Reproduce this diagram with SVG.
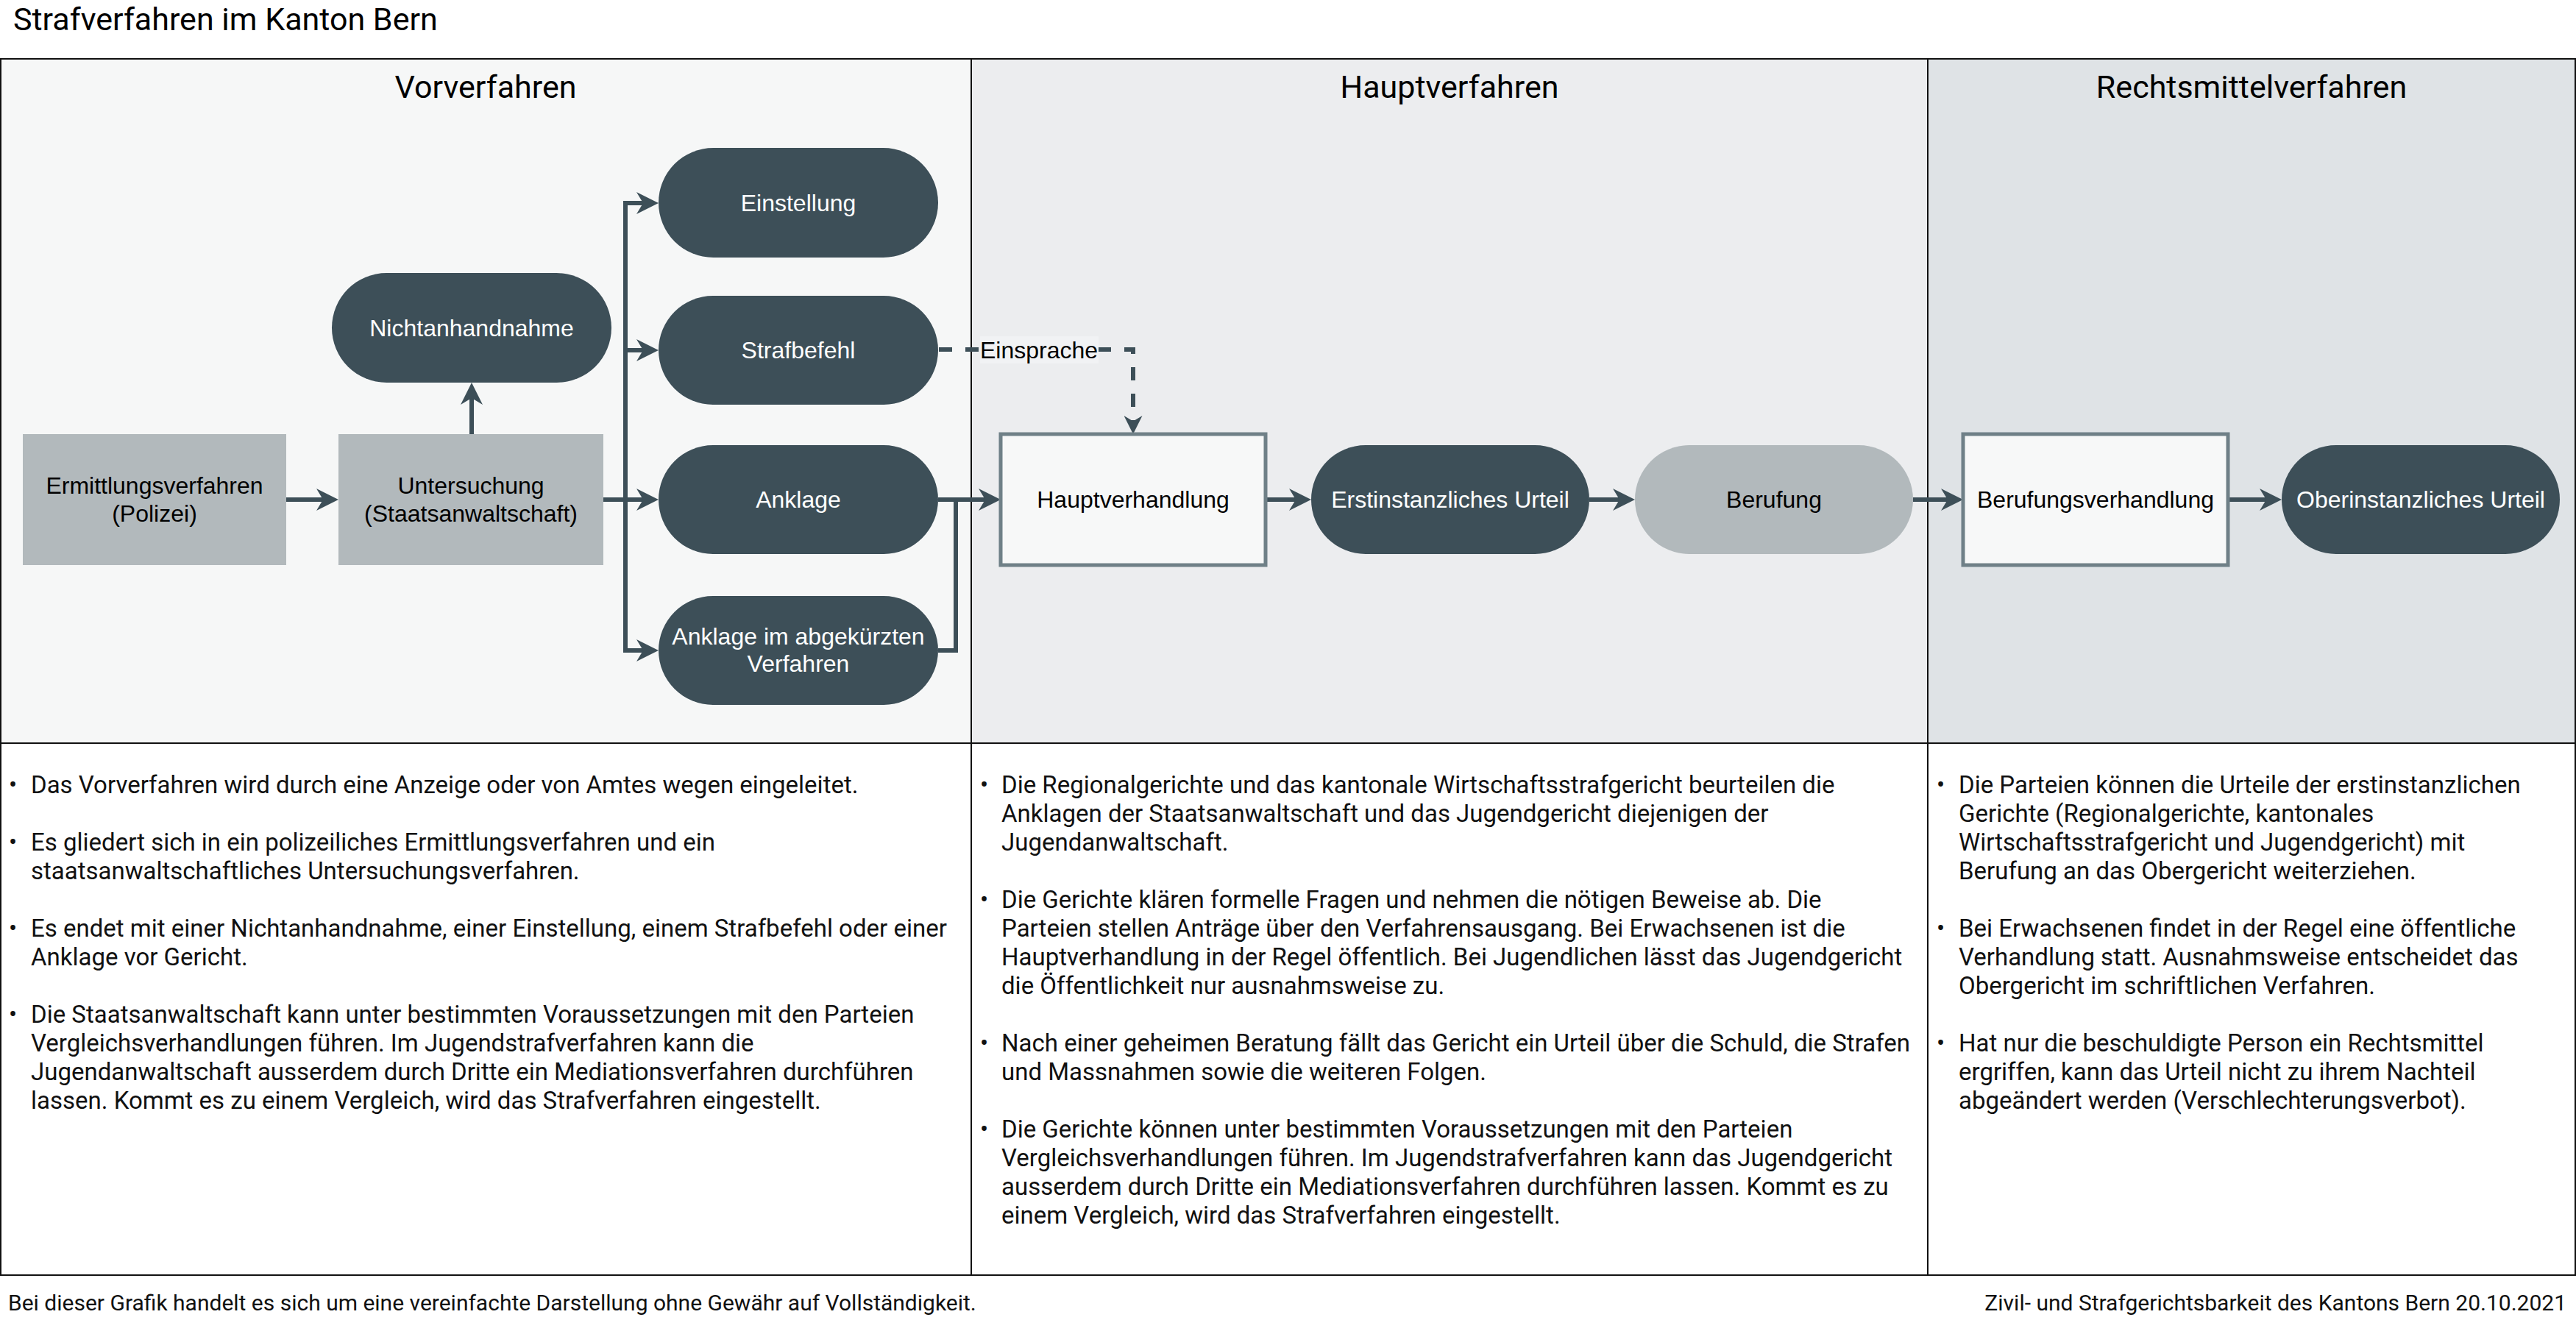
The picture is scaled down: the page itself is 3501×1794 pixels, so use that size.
<svg xmlns="http://www.w3.org/2000/svg" width="3501" height="1794" viewBox="0 0 3501 1794">
<style>
.ttl{font-family:Roboto,"Liberation Sans",sans-serif;font-size:43px;fill:#000}
.hdr{font-family:Roboto,"Liberation Sans",sans-serif;font-size:43px;fill:#000;text-anchor:middle}
.body{font-family:Roboto,"Liberation Sans",sans-serif;font-size:33px;fill:#111}
.foot{font-family:Roboto,"Liberation Sans",sans-serif;font-size:30px;fill:#111}
.lbl{font-family:"Liberation Sans",Arial,sans-serif;font-size:32px;text-anchor:middle}
.w{fill:#fff}
.k{fill:#000}
.dark{fill:#3d4f58}
.grey{fill:#b2b9bc}
.box{fill:#f7f8f8;stroke:#6f8087;stroke-width:5}
.frame{fill:none;stroke:#111;stroke-width:2}
.conn{fill:none;stroke:#3d4f58;stroke-width:6}
.arr{marker-end:url(#ah)}
.dash{stroke-dasharray:18 18;marker-end:url(#ahs)}
</style>
<defs>
<marker id="ah" markerUnits="userSpaceOnUse" viewBox="0 0 30 30" markerWidth="30" markerHeight="30" refX="12" refY="15" orient="auto">
<path d="M0,0 L30,15 L0,30 L9,15 Z" fill="#3d4f58"/>
</marker>
<marker id="ahs" markerUnits="userSpaceOnUse" viewBox="0 0 30 30" markerWidth="25" markerHeight="25" refX="12" refY="15" orient="auto">
<path d="M0,0 L30,15 L0,30 L9,15 Z" fill="#3d4f58"/>
</marker>
</defs>
<rect x="0" y="0" width="3501" height="1794" fill="#fff"/>
<text class="ttl" x="18" y="41">Strafverfahren im Kanton Bern</text>
<g id="panels">
<rect x="1" y="80" width="1319" height="930" fill="#f6f7f7"/>
<rect x="1320" y="80" width="1300" height="930" fill="#ecedef"/>
<rect x="2620" y="80" width="880" height="930" fill="#dfe3e6"/>
<text class="hdr" x="660" y="133">Vorverfahren</text>
<text class="hdr" x="1970" y="133">Hauptverfahren</text>
<text class="hdr" x="3060" y="133">Rechtsmittelverfahren</text>
<rect class="frame" x="1" y="80" width="3499" height="1653"/>
<line class="frame" x1="1" y1="1010" x2="3500" y2="1010"/>
<line class="frame" x1="1320" y1="80" x2="1320" y2="1733"/>
<line class="frame" x1="2620" y1="80" x2="2620" y2="1733"/>
</g>
<g id="connectors">
<path class="conn arr" d="M389,679 H442"/>
<path class="conn arr" d="M641,590 V538"/>
<path class="conn arr" d="M820,679 H877"/>
<path class="conn arr" d="M850,679 V276 H877"/>
<path class="conn arr" d="M850,679 V476 H877"/>
<path class="conn arr" d="M850,679 V884 H877"/>
<path class="conn arr" d="M1275,679 H1342"/>
<path class="conn" d="M1275,884 H1299 V679"/>
<path class="conn arr" d="M1722,679 H1764"/>
<path class="conn arr" d="M2160,679 H2204"/>
<path class="conn arr" d="M2600,679 H2650"/>
<path class="conn arr" d="M3030,679 H3083"/>
<path class="conn dash" d="M1276,475 H1540 V575"/>
<rect x="1332" y="457" width="161" height="37" fill="#f1f2f4"/>
<text class="lbl k" x="1412" y="487">Einsprache</text>
</g>
<g id="n-ermittlung">
<rect class="grey" x="31" y="590" width="358" height="178"/>
<text class="lbl k" x="210"><tspan x="210" y="671">Ermittlungsverfahren</tspan><tspan x="210" y="709">(Polizei)</tspan></text>
</g>
<g id="n-untersuchung">
<rect class="grey" x="460" y="590" width="360" height="178"/>
<text class="lbl k" x="640"><tspan x="640" y="671">Untersuchung</tspan><tspan x="640" y="709">(Staatsanwaltschaft)</tspan></text>
</g>
<g id="n-nichtanhandnahme">
<rect class="dark" x="451" y="371" width="380" height="149" rx="74.5"/>
<text class="lbl w" x="641" y="457">Nichtanhandnahme</text>
</g>
<g id="n-einstellung">
<rect class="dark" x="895" y="201" width="380" height="149" rx="74.5"/>
<text class="lbl w" x="1085" y="287">Einstellung</text>
</g>
<g id="n-strafbefehl">
<rect class="dark" x="895" y="402" width="380" height="148" rx="74"/>
<text class="lbl w" x="1085" y="487">Strafbefehl</text>
</g>
<g id="n-anklage">
<rect class="dark" x="895" y="605" width="380" height="148" rx="74"/>
<text class="lbl w" x="1085" y="690">Anklage</text>
</g>
<g id="n-anklage-abgekuerzt">
<rect class="dark" x="895" y="810" width="380" height="148" rx="74"/>
<text class="lbl w" x="1085"><tspan x="1085" y="876">Anklage im abgekürzten</tspan><tspan x="1085" y="913">Verfahren</tspan></text>
</g>
<g id="n-hauptverhandlung">
<rect class="box" x="1360" y="590" width="360" height="178"/>
<text class="lbl k" x="1540" y="690">Hauptverhandlung</text>
</g>
<g id="n-erstinstanzlich">
<rect class="dark" x="1782" y="605" width="378" height="148" rx="74"/>
<text class="lbl w" x="1971" y="690">Erstinstanzliches Urteil</text>
</g>
<g id="n-berufung">
<rect class="grey" x="2222" y="605" width="378" height="148" rx="74"/>
<text class="lbl k" x="2411" y="690">Berufung</text>
</g>
<g id="n-berufungsverhandlung">
<rect class="box" x="2668" y="590" width="360" height="178"/>
<text class="lbl k" x="2848" y="690">Berufungsverhandlung</text>
</g>
<g id="n-oberinstanzlich">
<rect class="dark" x="3101" y="605" width="378" height="148" rx="74"/>
<text class="lbl w" x="3290" y="690">Oberinstanzliches Urteil</text>
</g>
<g id="text-vorverfahren">
<text class="body" x="12" y="1078">•</text>
<text class="body" x="42" y="1078">Das Vorverfahren wird durch eine Anzeige oder von Amtes wegen eingeleitet.</text>
<text class="body" x="12" y="1156">•</text>
<text class="body"><tspan x="42" y="1156">Es gliedert sich in ein polizeiliches Ermittlungsverfahren und ein</tspan><tspan x="42" y="1195">staatsanwaltschaftliches Untersuchungsverfahren.</tspan></text>
<text class="body" x="12" y="1273">•</text>
<text class="body"><tspan x="42" y="1273">Es endet mit einer Nichtanhandnahme, einer Einstellung, einem Strafbefehl oder einer</tspan><tspan x="42" y="1312">Anklage vor Gericht.</tspan></text>
<text class="body" x="12" y="1390">•</text>
<text class="body"><tspan x="42" y="1390">Die Staatsanwaltschaft kann unter bestimmten Voraussetzungen mit den Parteien</tspan><tspan x="42" y="1429">Vergleichsverhandlungen führen. Im Jugendstrafverfahren kann die</tspan><tspan x="42" y="1468">Jugendanwaltschaft ausserdem durch Dritte ein Mediationsverfahren durchführen</tspan><tspan x="42" y="1507">lassen. Kommt es zu einem Vergleich, wird das Strafverfahren eingestellt.</tspan></text>
</g>
<g id="text-hauptverfahren">
<text class="body" x="1332" y="1078">•</text>
<text class="body"><tspan x="1361" y="1078">Die Regionalgerichte und das kantonale Wirtschaftsstrafgericht beurteilen die</tspan><tspan x="1361" y="1117">Anklagen der Staatsanwaltschaft und das Jugendgericht diejenigen der</tspan><tspan x="1361" y="1156">Jugendanwaltschaft.</tspan></text>
<text class="body" x="1332" y="1234">•</text>
<text class="body"><tspan x="1361" y="1234">Die Gerichte klären formelle Fragen und nehmen die nötigen Beweise ab. Die</tspan><tspan x="1361" y="1273">Parteien stellen Anträge über den Verfahrensausgang. Bei Erwachsenen ist die</tspan><tspan x="1361" y="1312">Hauptverhandlung in der Regel öffentlich. Bei Jugendlichen lässt das Jugendgericht</tspan><tspan x="1361" y="1351">die Öffentlichkeit nur ausnahmsweise zu.</tspan></text>
<text class="body" x="1332" y="1429">•</text>
<text class="body"><tspan x="1361" y="1429">Nach einer geheimen Beratung fällt das Gericht ein Urteil über die Schuld, die Strafen</tspan><tspan x="1361" y="1468">und Massnahmen sowie die weiteren Folgen.</tspan></text>
<text class="body" x="1332" y="1546">•</text>
<text class="body"><tspan x="1361" y="1546">Die Gerichte können unter bestimmten Voraussetzungen mit den Parteien</tspan><tspan x="1361" y="1585">Vergleichsverhandlungen führen. Im Jugendstrafverfahren kann das Jugendgericht</tspan><tspan x="1361" y="1624">ausserdem durch Dritte ein Mediationsverfahren durchführen lassen. Kommt es zu</tspan><tspan x="1361" y="1663">einem Vergleich, wird das Strafverfahren eingestellt.</tspan></text>
</g>
<g id="text-rechtsmittel">
<text class="body" x="2632" y="1078">•</text>
<text class="body"><tspan x="2662" y="1078">Die Parteien können die Urteile der erstinstanzlichen</tspan><tspan x="2662" y="1117">Gerichte (Regionalgerichte, kantonales</tspan><tspan x="2662" y="1156">Wirtschaftsstrafgericht und Jugendgericht) mit</tspan><tspan x="2662" y="1195">Berufung an das Obergericht weiterziehen.</tspan></text>
<text class="body" x="2632" y="1273">•</text>
<text class="body"><tspan x="2662" y="1273">Bei Erwachsenen findet in der Regel eine öffentliche</tspan><tspan x="2662" y="1312">Verhandlung statt. Ausnahmsweise entscheidet das</tspan><tspan x="2662" y="1351">Obergericht im schriftlichen Verfahren.</tspan></text>
<text class="body" x="2632" y="1429">•</text>
<text class="body"><tspan x="2662" y="1429">Hat nur die beschuldigte Person ein Rechtsmittel</tspan><tspan x="2662" y="1468">ergriffen, kann das Urteil nicht zu ihrem Nachteil</tspan><tspan x="2662" y="1507">abgeändert werden (Verschlechterungsverbot).</tspan></text>
</g>
<text class="foot" x="11" y="1781">Bei dieser Grafik handelt es sich um eine vereinfachte Darstellung ohne Gewähr auf Vollständigkeit.</text>
<text class="foot" x="3488" y="1781" text-anchor="end">Zivil- und Strafgerichtsbarkeit des Kantons Bern 20.10.2021</text>
</svg>
